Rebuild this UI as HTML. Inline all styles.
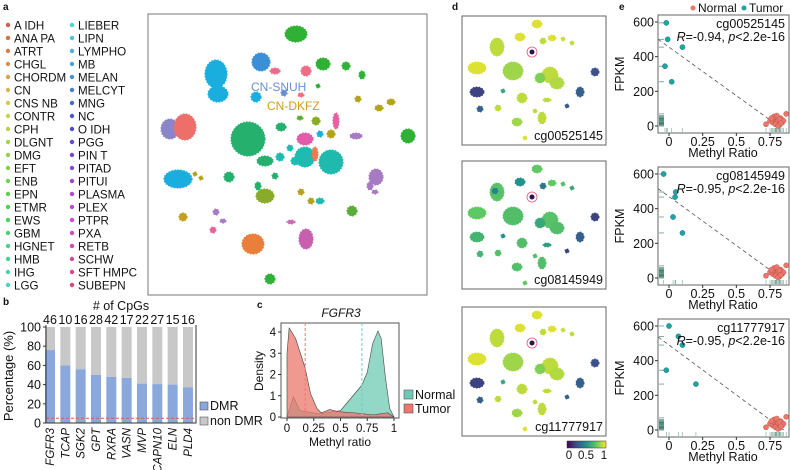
<!DOCTYPE html>
<html><head><meta charset="utf-8"><style>
html,body{margin:0;padding:0;background:#fff;}
svg{display:block;font-family:"Liberation Sans",sans-serif;}
</style></head><body>
<svg id="fig" width="790" height="470" viewBox="0 0 790 470"></svg>
<script>
// ---------- DATA ----------
const tumorTypes = ["A IDH","ANA PA","ATRT","CHGL","CHORDM","CN","CNS NB","CONTR","CPH","DLGNT","DMG","EFT","ENB","EPN","ETMR","EWS","GBM","HGNET","HMB","IHG","LGG","LIEBER","LIPN","LYMPHO","MB","MELAN","MELCYT","MNG","NC","O IDH","PGG","PIN T","PITAD","PITUI","PLASMA","PLEX","PTPR","PXA","RETB","SCHW","SFT HMPC","SUBEPN"];
// tSNE clusters: cx, cy, rx, ry, color
const clusterX = [296,261,275,216,218,256,306,323,346,362,318,284,301,358,391,379,170,185,248,305,331,336,305,315,320,331,356,408,281,300,316,178,195,201,229,265,275,258,265,301,311,320,376,370,375,352,183,216,223,213,291,306,253,270,280,295,290];
const clusterY = [34,62,71,74,94,97,71,64,66,75,86,93,95,99,102,108,129,127,139,157,162,121,139,154,134,134,136,136,127,118,121,179,174,178,177,161,176,186,196,192,201,201,177,186,192,211,217,212,221,230,222,239,244,279,157,161,148];
const clusterRx = [11,9,5,11,10,5,5,7,4,3,2,3,3,3,4,4,9,11,17,10,12,3,8,3,3,4,6,7,5,3,4,14,2,2,5,8,3,3,9,3,3,4,7,3,3,5,4,3,3,3,4,7,11,5,4,4,3];
const clusterRy = [8,9,3,14,8,5,5,6,4,4,2,3,2,3,3,3,10,13,17,10,12,8,6,7,3,4,3,7,4,2,4,9,2,2,5,5,3,4,7,3,3,3,8,4,2,5,4,3,2,3,2,10,10,5,4,4,3];
const clusterC = ["#2eb135","#3a8fd6","#ee6a8c","#1aaedf","#1aaedf","#1aaedf","#f06b85","#2eb135","#2eb135","#2eb135","#2eb135","#6a8fd0","#f06b85","#b5a21b","#b5a21b","#b5a21b","#8a86c9","#ee6e6a","#26b06d","#1ebcb0","#20b9ae","#e8609f","#e25aa8","#f07a55","#1aaedf","#b5a21b","#a77bc4","#2eb135","#26b06d","#5cad38","#8aab2a","#1aaedf","#b5a21b","#b5a21b","#26b06d","#26b06d","#26b06d","#26b06d","#8aab2a","#b5a21b","#b5a21b","#1ebcb0","#a77bc4","#a77bc4","#a77bc4","#5cad38","#c2a01b","#a77bc4","#a77bc4","#e8609f","#cc6bb2","#c85fae","#ea7f3c","#2eb135","#1ebcb0","#1ebcb0","#1ebcb0"];

// panel b
const genes = ["FGFR3","TCAP","SGK2","GPT","RXRA","VASN","MVP","CAPN10","ELN","PLD4"];
const cpgCounts = [46,10,16,28,42,17,22,27,15,16];
const dmrPct = [76,60,56,50,48,47,41,40.5,40,37];
const bTicks = [0,20,40,60,80,100];
const cutoffPct = 5;

// panel c densities
const tumorX = [0,0.02,0.08,0.17,0.22,0.28,0.32,0.40,0.48,0.62,0.81,0.94,1];
const tumorD = [3.0,4.2,3.7,2.3,1.1,0.4,0.2,0.35,0.25,0.2,0.1,0.2,0];
const normalX = [0,0.06,0.12,0.3,0.5,0.6,0.7,0.75,0.8,0.85,0.88,0.92,0.96,1];
const normalD = [0,0.95,0.3,0.15,0.3,0.9,1.5,2.1,3.45,4.05,3.7,1.85,0.4,0];
const cXTicks = [0,0.25,0.5,0.75,1];
const cYTicks = [0,1,2,3,4];
const tumorMean = 0.17, normalMean = 0.7;

// panel d blobs (relative to panel box) & per-panel methylation values
const blobX = [75,35,58,81,90,101,110,15,51,15,60,88,95,78,118,133,105,85,18,36,55,80,73,63,41,70,33];
const blobY = [8,31,21,25,22,23,27,52,55,76,82,59,67,62,76,56,90,84,93,92,106,102,95,122,75,36,30];
const blobRx = [5,7,5,3,4,2,2,9,10,7,5,8,7,5,4,4,2,4,3,3,5,4,2,2,2,2,3];
const blobRy = [4,9,4,3,3,2,2,6,9,5,5,8,6,5,5,4,2,2,3,3,4,6,2,2,2,2,3];
const methA = [0.95,0.9,0.95,0.9,0.95,0.92,0.9,0.95,0.85,0.2,0.9,0.9,0.88,0.8,0.3,0.25,0.3,0.9,0.3,0.9,0.85,0.9,0.9,0.95,0.6,0.95,0.9];
const methB = [0.75,0.72,0.5,0.4,0.75,0.7,0.6,0.75,0.7,0.65,0.7,0.72,0.7,0.6,0.3,0.2,0.2,0.55,0.65,0.7,0.7,0.7,0.7,0.75,0.5,0.7,0.45];
const methC = [0.95,0.9,0.95,0.9,0.95,0.92,0.9,0.95,0.85,0.2,0.9,0.9,0.88,0.8,0.3,0.25,0.3,0.9,0.3,0.9,0.85,0.9,0.9,0.95,0.6,0.95,0.9];
const probeIds = ["cg00525145","cg08145949","cg11777917"];

// panel e
const eTumorX1 = [-0.02,-0.01,0.1,-0.03,0.02];
const eTumorY1 = [595,500,455,345,255];
const eTumorX2 = [-0.04,0.05,0.045,0.03,0.1];
const eTumorY2 = [600,496,467,352,260];
const eTumorX3 = [0,0.07,0.1,-0.02,0.2];
const eTumorY3 = [600,540,490,345,265];
const eNormalX = [0.72,0.75,0.77,0.78,0.79,0.8,0.8,0.81,0.82,0.83,0.84,0.85,0.78,0.8,0.82,0.79,0.81,0.83,0.87,0.76];
const eNormalY = [10,30,20,40,15,50,25,35,5,45,20,30,55,60,40,10,0,15,70,45];
const eR = ["-0.94","-0.95","-0.95"];
const eIntercept = [455,470,490];
const eSlope = [-560,-565,-575];
const eXTicks = [0,0.25,0.5,0.75];
const eYTicks = [0,200,400,600];

// ---------- DRAW ----------
const NS="http://www.w3.org/2000/svg";
const svg=document.getElementById('fig');
function mk(tag,attrs,parent){const e=document.createElementNS(NS,tag);for(const k in attrs)e.setAttribute(k,attrs[k]);(parent||svg).appendChild(e);return e;}
function txt(s,x,y,size,attrs,parent){const e=mk('text',Object.assign({x:x,y:y,'font-size':size,fill:'#111'},attrs||{}),parent);e.textContent=s;return e;}
function lbl(s,x,y){const e=txt(s,x,y,10,{'font-weight':'bold'});}

lbl('a',3,10);lbl('b',3,305);lbl('c',257,308);lbl('d',452,10);lbl('e',619,10);

// legend a
function typeColor(i){const h=(8+i*340/tumorTypes.length)%360;return 'hsl('+h+',62%,56%)';}
const legA=mk('g',{});


tumorTypes.forEach((t,i)=>{
  const col=i<21?0:1, row=i<21?i:i-21;
  const x=col?72:8, y=25+row*13;
  const g=mk('g',{},legA);
  
  
  mk('circle',{cx:x,cy:y,r:2.2,fill:typeColor(i)},g);
  txt(t,x+6,y+4.5,11.6,{},g);
});

// tSNE
const ta=mk('g',{});


mk('rect',{x:148,y:14,width:279,height:281,fill:'#fff',stroke:'#777','stroke-width':1},ta);
clusterX.forEach((cx,i)=>{
  const e=mk('ellipse',{cx:cx,cy:clusterY[i],rx:clusterRx[i],ry:clusterRy[i],fill:clusterC[i],stroke:clusterC[i],'stroke-width':1.2,'stroke-dasharray':'1.5,1.5'},ta);
  
  
});
let t1=txt('CN-SNUH',251,91,12,{fill:'#6a8fd0'},ta);

let t2=txt('CN-DKFZ',267,110,12,{fill:'#d49a1a'},ta);


// panel b
const bx0=46,bx1=196,by0=423,by100=327;
const by=v=>by0-(v/100)*(by0-by100);
const bxc=i=>50+i*15.33;
const gb=mk('g',{});


txt('# of CpGs',121,310,12.5,{'text-anchor':'middle'},gb);
genes.forEach((gname,i)=>{
  const x=bxc(i)-5;
  const r1=mk('rect',{x:x,y:by(100),width:10,height:by(dmrPct[i])-by(100),fill:'#c8c8c8'},gb);
  
  
  const r2=mk('rect',{x:x,y:by(dmrPct[i]),width:10,height:by0-by(dmrPct[i]),fill:'#8aa8dc'},gb);
  
  
  txt(String(cpgCounts[i]),bxc(i),324,12.5,{'text-anchor':'middle'},gb);
  txt(gname,0,0,11.5,{'font-style':'italic','text-anchor':'end',transform:'translate('+(bxc(i)+4)+',428) rotate(-90)'},gb);
});
mk('line',{x1:bx0,y1:by(cutoffPct),x2:bx1,y2:by(cutoffPct),stroke:'#e8544a','stroke-width':1,'stroke-dasharray':'3,2'},gb);
mk('path',{d:`M${bx0},${by100-2}V${by0}H${bx1}V${by100-2}`,fill:'none',stroke:'#333','stroke-width':1},gb);
bTicks.forEach(v=>{mk('line',{x1:bx0-3,y1:by(v),x2:bx0,y2:by(v),stroke:'#333'},gb);txt(String(v),bx0-5,by(v)+4.5,12.5,{'text-anchor':'end'},gb);});
txt('Percentage (%)',0,0,13,{'text-anchor':'middle',transform:'translate(13,376) rotate(-90)'},gb);
mk('rect',{x:200,y:402,width:8,height:8,fill:'#8aa8dc',stroke:'#555','stroke-width':0.6},gb);
txt('DMR',210,410,12.5,{},gb);
mk('rect',{x:200,y:417,width:8,height:8,fill:'#c8c8c8',stroke:'#555','stroke-width':0.6},gb);
txt('non DMR',210,425,12.5,{},gb);

// panel c
const cxs=v=>287+v*107, cys=v=>417-v*21.25;
const gc=mk('g',{});


txt('FGFR3',341,317,12,{'font-style':'italic','text-anchor':'middle'},gc);
mk('rect',{x:281,y:323,width:118,height:95,fill:'#fff',stroke:'#555'},gc);
function area(xs,ds,fill,name){let d=`M${cxs(xs[0])},${cys(0)}`;xs.forEach((x,i)=>d+=`L${cxs(x)},${cys(ds[i])}`);d+=`L${cxs(xs[xs.length-1])},${cys(0)}Z`;
  const p=mk('path',{d:d,fill:fill,'fill-opacity':0.75,stroke:'#444','stroke-width':0.6,'stroke-linejoin':'round'},gc);
  }
area(normalX,normalD,'#6fc9b4','normal-density');
area(tumorX,tumorD,'#e9776b','tumor-density');
mk('line',{x1:cxs(tumorMean),y1:323,x2:cxs(tumorMean),y2:418,stroke:'#ef7a70','stroke-dasharray':'3,2'},gc);
mk('line',{x1:cxs(normalMean),y1:323,x2:cxs(normalMean),y2:418,stroke:'#6fd0bd','stroke-dasharray':'3,2'},gc);
cYTicks.forEach(v=>{mk('line',{x1:278,y1:cys(v),x2:281,y2:cys(v),stroke:'#333'},gc);txt(String(v),276,cys(v)+4,11.5,{'text-anchor':'end'},gc);});
cXTicks.forEach(v=>{mk('line',{x1:cxs(v),y1:418,x2:cxs(v),y2:421,stroke:'#333'},gc);txt(String(v),cxs(v),432,11.5,{'text-anchor':'middle'},gc);});
txt('Methyl ratio',340,446,12,{'text-anchor':'middle'},gc);
txt('Density',0,0,12,{'text-anchor':'middle',transform:'translate(263,371) rotate(-90)'},gc);
mk('rect',{x:404,y:390,width:9,height:9,fill:'#6fc9b4',stroke:'#555','stroke-width':0.6},gc);
txt('Normal',415,399,12.5,{},gc);
mk('rect',{x:404,y:404,width:9,height:9,fill:'#e9776b',stroke:'#555','stroke-width':0.6},gc);
txt('Tumor',415,413,12.5,{},gc);

// panel d
function viridis(t){const s=[[68,1,84],[59,82,139],[33,145,140],[94,201,98],[253,231,37]];t=Math.max(0,Math.min(1,t))*4;const i=Math.min(3,Math.floor(t)),f=t-i;const a=s[i],b=s[i+1];return `rgb(${Math.round(a[0]+(b[0]-a[0])*f)},${Math.round(a[1]+(b[1]-a[1])*f)},${Math.round(a[2]+(b[2]-a[2])*f)})`;}
const dTops=[16,161,307],dHeights=[129,128,129];
[methA,methB,methC].forEach((vals,p)=>{
  const ox=462,oy=dTops[p];
  const g=mk('g',{});
  
  
  mk('rect',{x:ox,y:oy,width:144,height:dHeights[p],fill:'#fff',stroke:'#666'},g);
  blobX.forEach((bx,i)=>{
    const c=viridis(vals[i]);
    const e=mk('ellipse',{cx:ox+bx,cy:oy+blobY[i],rx:blobRx[i],ry:blobRy[i],fill:c,stroke:c,'stroke-width':1,'stroke-dasharray':'1.5,1.5'},g);
    
    
  });
  mk('circle',{cx:ox+70,cy:oy+36,r:2.5,fill:'#2c1450'},g);
  mk('circle',{cx:ox+70,cy:oy+36,r:5,fill:'none',stroke:'#e6557a','stroke-width':0.8},g);
  txt(probeIds[p],ox+141,oy+dHeights[p]-5,12.5,{'text-anchor':'end'},g);
});
const cb=mk('g',{});


const defs=mk('defs',{});const lg=mk('linearGradient',{id:'vir'},defs);
[0,0.25,0.5,0.75,1].forEach(o=>mk('stop',{offset:o,'stop-color':viridis(o)},lg));
mk('rect',{x:567,y:441,width:39,height:7,fill:'url(#vir)',stroke:'#333','stroke-width':0.5},cb);
txt('0',569,459,11.5,{'text-anchor':'middle'},cb);txt('0.5',586,459,11.5,{'text-anchor':'middle'},cb);txt('1',604,459,11.5,{'text-anchor':'middle'},cb);

// panel e
const eSets=[[eTumorX1,eTumorY1],[eTumorX2,eTumorY2],[eTumorX3,eTumorY3]];
const eLg=mk('g',{});


mk('circle',{cx:693,cy:8,r:2.5,fill:'#e9776b'},eLg);txt('Normal',698,12,12,{},eLg);
mk('circle',{cx:744,cy:8,r:2.5,fill:'#1fa3a3'},eLg);txt('Tumor',749,12,12,{},eLg);
eSets.forEach((set,p)=>{
  const off=p*152, top=15+off, bot=133+off;
  const ex=v=>669+v*134.7, ey=v=>126+off-v*(104/600);
  const g=mk('g',{});
  
  
  mk('rect',{x:658,y:top,width:131,height:bot-top,fill:'#fff',stroke:'#666'},g);
  eYTicks.forEach(v=>{mk('line',{x1:655,y1:ey(v),x2:658,y2:ey(v),stroke:'#333'},g);txt(String(v),654,ey(v)+4.5,12.5,{'text-anchor':'end'},g);});
  eXTicks.forEach(v=>{mk('line',{x1:ex(v),y1:bot,x2:ex(v),y2:bot+3,stroke:'#333'},g);txt(String(v),ex(v),bot+13,12.5,{'text-anchor':'middle'},g);});
  txt('Methyl Ratio',723,bot+24,12.5,{'text-anchor':'middle'},g);
  txt('FPKM',0,0,12.5,{'text-anchor':'middle',transform:`translate(624,${ey(300)}) rotate(-90)`},g);
  const allX=set[0].concat(eNormalX), allY=set[1].concat(eNormalY);
  allY.forEach(v=>mk('line',{x1:659,y1:ey(v),x2:664,y2:ey(v),stroke:'#1f6d55','stroke-width':0.8,'stroke-opacity':0.7},g));
  allX.forEach(v=>mk('line',{x1:ex(v),y1:bot-1,x2:ex(v),y2:bot-5,stroke:'#1f6d55','stroke-width':0.6,'stroke-opacity':0.6},g));
  const xe=(-eIntercept[p]/eSlope[p]);
  mk('line',{x1:658,y1:ey(eIntercept[p]+eSlope[p]*((658-669)/134.7)),x2:ex(xe),y2:ey(0),stroke:'#555','stroke-dasharray':'4,3','stroke-width':0.8},g);
  eNormalX.forEach((x,i)=>{const c=mk('circle',{cx:ex(x),cy:ey(eNormalY[i]+(p*3)%7),r:2.6,fill:'#e9776b',stroke:'#b84a42','stroke-width':0.4},g);
    });
  set[0].forEach((x,i)=>{const c=mk('circle',{cx:ex(x),cy:ey(set[1][i]),r:2.6,fill:'#1fa3a3',stroke:'#166','stroke-width':0.4},g);
    });
  txt(probeIds[p],785,top+13,12.5,{'text-anchor':'end'},g);
  const rt=mk('text',{x:785,y:top+26,'font-size':12.5,'text-anchor':'end',fill:'#111'},g);
  rt.innerHTML=`<tspan font-style="italic">R</tspan>=${eR[p]}, <tspan font-style="italic">p</tspan>&lt;2.2e-16`;
});
</script>
</body></html>
